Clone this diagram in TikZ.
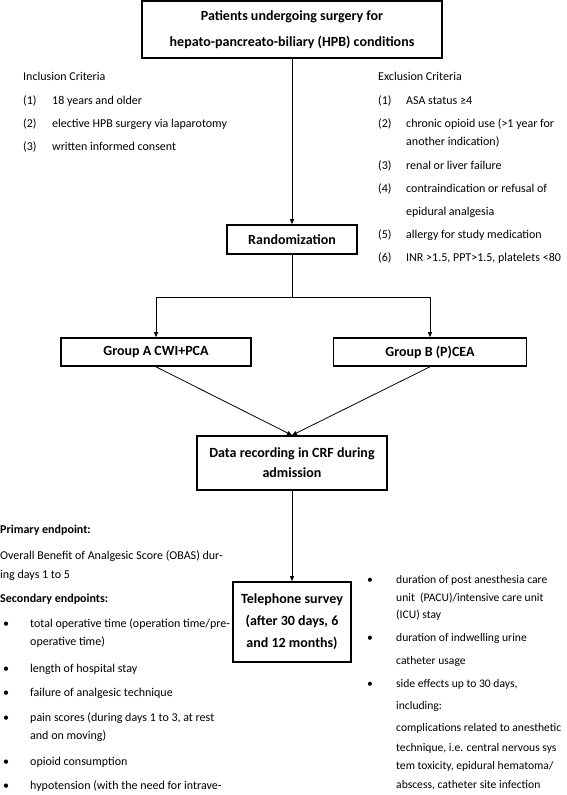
\documentclass[tikz,border=0pt]{standalone}
\usepackage{fontspec}
\setmainfont{Carlito}
\usetikzlibrary{arrows.meta,positioning}

\begin{document}
\begin{tikzpicture}[x=1pt, y=-1pt,
  box/.style={draw, line width=1.6pt, align=center, inner sep=2pt,
              font=\fontsize{14}{20}\selectfont\bfseries},
  txt/.style={anchor=west, inner sep=0pt, font=\fontsize{12}{14}\selectfont,
              text height=8.5pt, text depth=2.5pt},
  btxt/.style={txt, font=\fontsize{12}{14}\selectfont\bfseries},
  stxt/.style={txt, font=\fontsize{11.6}{14}\selectfont},
  arr/.style={-{Triangle[length=5pt,width=4pt]}, line width=0.8pt},
  ln/.style={line width=0.8pt},
]
  \useasboundingbox (0,0) rectangle (567,795);

  \node[box, minimum width=300pt, minimum height=57pt,
        font=\fontsize{14}{26}\selectfont\bfseries] (patients) at (292,29.5)
        {Patients undergoing surgery for\\hepato-pancreato-biliary (HPB) conditions};
  \node[box, minimum width=130pt, minimum height=29pt] (random) at (292,239.5) {Randomization};
  \coordinate (split) at (292,297);
  \node[box, minimum width=190pt, minimum height=28pt] (groupA) at (156,352) {Group A CWI+PCA};
  \node[box, minimum width=193pt, minimum height=28pt] (groupB) at (430,352) {Group B (P)CEA};
  \node[box, minimum width=190pt, minimum height=54pt] (crf) at (292,463)
        {Data recording in CRF during\\admission};
  \node[box, minimum width=118pt, minimum height=80pt,
        font=\fontsize{14}{22}\selectfont\bfseries] (phone) at (292,622)
        {Telephone survey\\(after 30 days, 6\\and 12 months)};

  \draw[arr] (patients) -- (random);
  \draw[ln] (random) -- (split);
  \draw[arr] (split) -| (groupA);
  \draw[arr] (split) -| (groupB);
  \draw[arr] (groupA.south) -- (crf.north);
  \draw[arr] (groupB.south) -- (crf.north);
  \draw[arr] (crf) -- (phone);

  % inclusion criteria
  \node[txt] (incl) at (23,77) {Inclusion Criteria};
  \foreach \n/\y/\t in {1/101/18 years and older,
                        2/124/elective HPB surgery via laparotomy,
                        3/147/written informed consent} {
    \node[txt] (incl-num-\n) at (23,\y) {(\n)};
    \node[txt] (incl-\n) at (52,\y) {\t};
  }

  % exclusion criteria
  \node[txt] (excl) at (378,77) {Exclusion Criteria};
  \foreach \n/\y/\t in {1/101/ASA status ≥4,
                        2/124/chronic opioid use (>1 year for,
                        3/166/renal or liver failure,
                        4/189/contraindication or refusal of,
                        5/235/allergy for study medication,
                        6/258/{INR >1.5, PPT>1.5, platelets <80}} {
    \node[txt] (excl-num-\n) at (378,\y) {(\n)};
    \node[txt] (excl-\n) at (406,\y) {\t};
  }
  \node[txt] (excl-2b) at (406,142) {another indication)};
  \node[txt] (excl-4b) at (406,212) {epidural analgesia};

  % endpoints
  \node[btxt] (primary) at (0,530) {Primary endpoint:};
  \node[txt] (obas) at (0,556) {Overall Benefit of Analgesic Score (OBAS) dur-};
  \node[txt] (obas-b) at (0,575) {ing days 1 to 5};
  \node[btxt] (secondary) at (0,599) {Secondary endpoints:};
  \foreach \i/\y/\t in {1/624/{total operative time (operation time/pre-},
                        2/669/length of hospital stay,
                        3/693/failure of analgesic technique,
                        4/718/{pain scores (during days 1 to 3, at rest},
                        5/762/opioid consumption,
                        6/786/hypotension (with the need for intrave-} {
    \node[txt] (sec-dot-\i) at (3,\y) {•};
    \node[txt] (sec-\i) at (30,\y) {\t};
  }
  \node[txt] (sec-1b) at (30,642) {operative time)};
  \node[txt] (sec-4b) at (30,736) {and on moving)};

  \foreach \i/\y/\t in {1/580/duration of post anesthesia care,
                        2/638/duration of indwelling urine,
                        3/684/{side effects up to 30 days,}} {
    \node[stxt] (side-dot-\i) at (367,\y) {•};
    \node[stxt] (side-\i) at (396,\y) {\t};
  }
  \node[stxt] (side-1b) at (396,598) {unit\ \ (PACU)/intensive care unit};
  \node[stxt] (side-1c) at (396,615) {(ICU) stay};
  \node[stxt] (side-2b) at (396,661) {catheter usage};
  \node[stxt] (side-3b) at (396,706) {including:};
  \node[stxt] (side-3c) at (396,728) {complications related to anesthetic};
  \node[stxt] (side-3d) at (396,748) {technique, i.e. central nervous sys};
  \node[stxt] (side-3e) at (396,766) {tem toxicity, epidural hematoma/};
  \node[stxt] (side-3f) at (396,785) {abscess, catheter site infection};
\end{tikzpicture}
\end{document}
